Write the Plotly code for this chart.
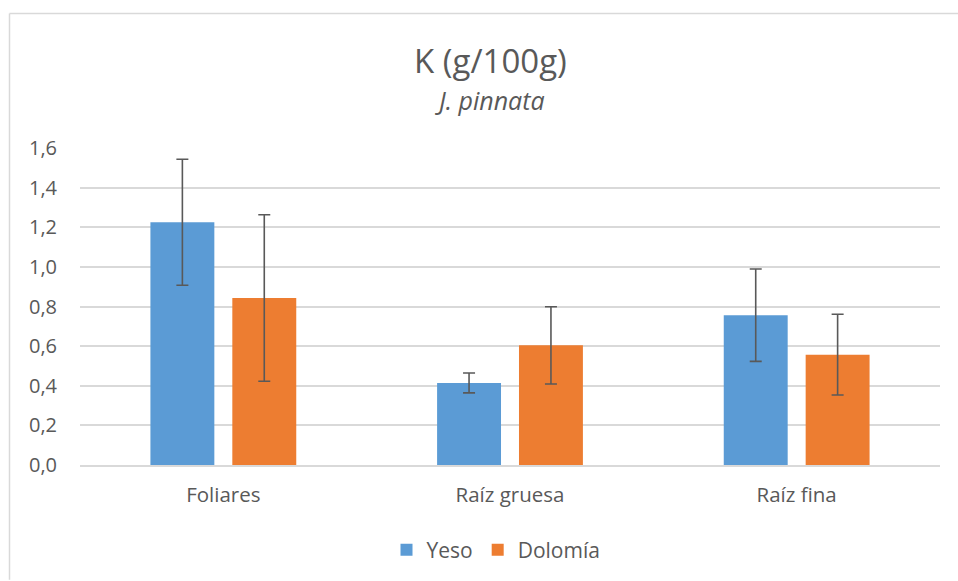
import plotly.graph_objects as go

categories = ["Foliares", "Raíz gruesa", "Raíz fina"]
yeso = [1.225, 0.414, 0.756]
yeso_err = [0.318, 0.05, 0.233]
dolomia = [0.843, 0.604, 0.557]
dolomia_err = [0.42, 0.195, 0.204]
tick_vals = [0, 0.2, 0.4, 0.6, 0.8, 1.0, 1.2, 1.4, 1.6]

FONT = "Open Sans"
GRAY = "#595959"

fig = go.Figure()
fig.add_trace(go.Bar(
    name="Yeso", x=categories, y=yeso, marker_color="#5B9BD5",
    marker_line_width=0,
    error_y=dict(type="data", array=yeso_err, color=GRAY, thickness=1.6, width=6),
))
fig.add_trace(go.Bar(
    name="Dolomía", x=categories, y=dolomia, marker_color="#ED7D31",
    marker_line_width=0,
    error_y=dict(type="data", array=dolomia_err, color=GRAY, thickness=1.6, width=6),
))

L, R, T, B = 80, 18, 148, 115
W, H = 958, 581
pw = W - L - R
ph = H - T - B

def px_x(px):
    return (px - L) / pw

def px_y(py):
    return (H - B - py) / ph

fig.update_layout(
    width=W, height=H,
    margin=dict(l=L, r=R, t=T, b=B),
    paper_bgcolor="white", plot_bgcolor="white",
    barmode="group", bargap=0.4286, bargroupgap=0.2195,
    separators=",.",
    font=dict(family=FONT, color=GRAY, size=20),
    showlegend=True,
    legend=dict(orientation="h", x=px_x(496), xanchor="center", y=px_y(550), yanchor="middle",
                font=dict(size=21, color=GRAY, family=FONT), itemwidth=30,
                traceorder="normal"),
    xaxis=dict(showgrid=False, showline=True, linecolor="#D9D9D9", linewidth=1.5,
               ticks="", tickfont=dict(size=20.5, color=GRAY, family=FONT),
               ticklabelstandoff=11),
    yaxis=dict(range=[0, 1.6], tickvals=tick_vals, tickformat=".1f",
               showgrid=True, gridcolor="#D9D9D9", gridwidth=1.5,
               zeroline=False, showline=False, ticks="",
               tickfont=dict(size=20, color=GRAY, family=FONT), ticklabelstandoff=22),
    annotations=[
        dict(text="K (g/100g)", xref="paper", yref="paper", x=px_x(490), y=px_y(60),
             showarrow=False, xanchor="center", yanchor="middle",
             font=dict(size=33, color=GRAY, family=FONT)),
        dict(text="<i>J. pinnata</i>", xref="paper", yref="paper", x=px_x(490), y=px_y(100),
             showarrow=False, xanchor="center", yanchor="middle",
             font=dict(size=25, color=GRAY, family=FONT)),
    ],
    shapes=[
        dict(type="line", xref="paper", yref="paper", x0=px_x(9.5), x1=px_x(9.5),
             y0=px_y(13), y1=px_y(581), line=dict(color="#D9D9D9", width=1.5)),
        dict(type="line", xref="paper", yref="paper", x0=px_x(9.5), x1=px_x(958),
             y0=px_y(13), y1=px_y(13), line=dict(color="#D9D9D9", width=1.5)),
    ],
)

fig.write_html("out.html", config={"displayModeBar": False},
               post_script="document.body.style.margin='0';document.body.style.overflow='hidden';")
